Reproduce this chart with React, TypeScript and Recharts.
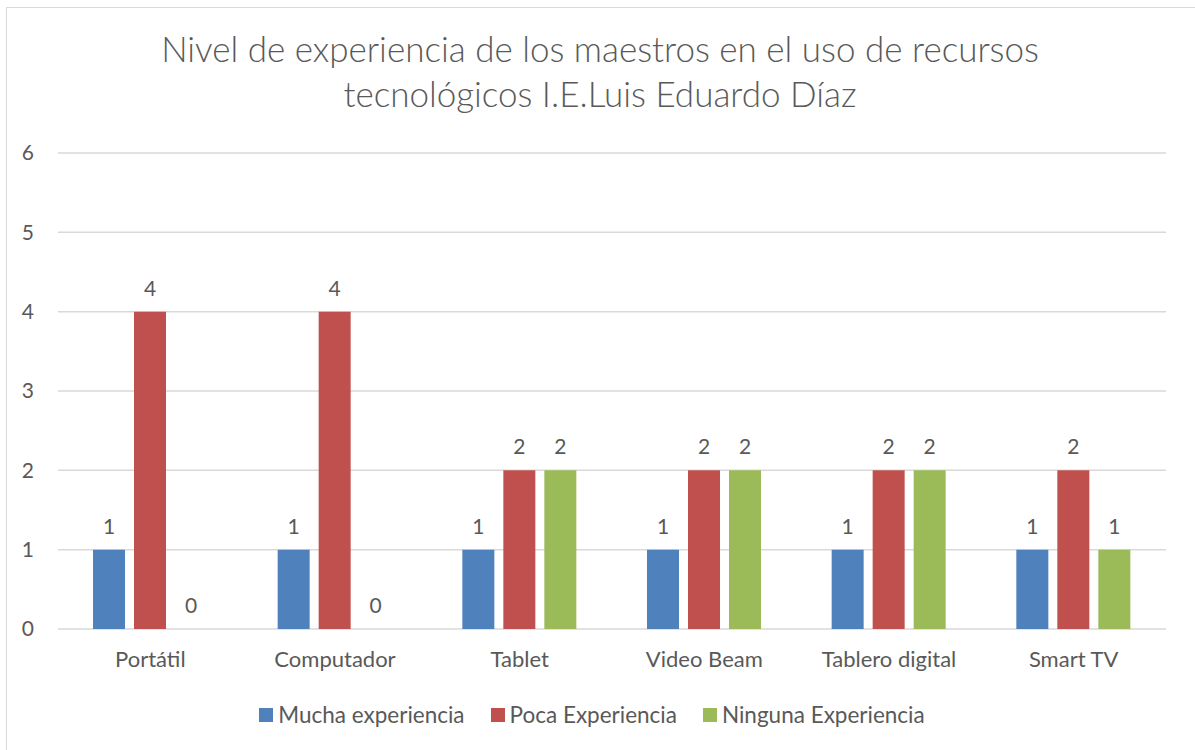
import React from 'react';
import { BarChart, Bar, XAxis, YAxis, CartesianGrid, Legend, LabelList } from 'recharts';

const categories = ['Portátil', 'Computador', 'Tablet', 'Video Beam', 'Tablero digital', 'Smart TV'];
const muchaExperiencia = [1, 1, 1, 1, 1, 1];
const pocaExperiencia = [4, 4, 2, 2, 2, 2];
const ningunaExperiencia = [0, 0, 2, 2, 2, 1];
const yTicks = [0, 1, 2, 3, 4, 5, 6];

const series = [
  { key: 'Mucha experiencia', color: '#4F81BD', values: muchaExperiencia },
  { key: 'Poca Experiencia', color: '#C0504D', values: pocaExperiencia },
  { key: 'Ninguna Experiencia', color: '#9BBB59', values: ningunaExperiencia },
];

const chartData = categories.map((name, i) => {
  const row: Record<string, string | number> = { name };
  series.forEach(s => {
    row[s.key] = s.values[i];
  });
  return row;
});

const FONT = 'Lato, "Open Sans", sans-serif';
const TEXT = '#595959';

const renderLegend = () => (
  <div style={{ display: 'flex', justifyContent: 'center', gap: 26, fontFamily: FONT, fontSize: 22.5, lineHeight: '26px', color: TEXT }}>
    {series.map(s => (
      <div key={s.key} style={{ display: 'flex', alignItems: 'center' }}>
        <span style={{ width: 14, height: 14, background: s.color, marginRight: 5, display: 'inline-block' }} />
        <span>{s.key}</span>
      </div>
    ))}
  </div>
);

export default function App() {
  return (
    <div style={{ position: 'absolute', left: 0, top: 0, width: 1195, height: 750, background: '#fff' }}>
      <div
        style={{
          position: 'absolute',
          left: 6,
          top: 7,
          width: 1195,
          height: 750,
          border: '1.5px solid #d9d9d9',
          boxSizing: 'border-box',
        }}
      />
      <div
        style={{
          position: 'absolute',
          left: 0,
          top: 26,
          width: 1200,
          textAlign: 'center',
          fontFamily: FONT,
          fontWeight: 300,
          fontSize: 35,
          lineHeight: '45px',
          color: TEXT,
        }}
      >
        Nivel de experiencia de los maestros en el uso de recursos
        <br />
        tecnológicos I.E.Luis Eduardo Díaz
      </div>
      <BarChart
        width={1195}
        height={750}
        data={chartData}
        margin={{ top: 153, right: 29, bottom: 65, left: 18 }}
        barSize={32}
        barGap={9}
      >
        <CartesianGrid vertical={false} stroke="#d9d9d9" strokeWidth={1.5} />
        <XAxis
          dataKey="name"
          axisLine={false}
          tickLine={false}
          tickSize={0}
          tickMargin={22}
          tick={{ fill: TEXT, fontSize: 22, fontFamily: FONT }}
          interval={0}
        />
        <YAxis
          width={40}
          domain={[0, 6]}
          ticks={yTicks}
          axisLine={false}
          tickLine={false}
          tickSize={0}
          tickMargin={24}
          tick={{ fill: TEXT, fontSize: 21, fontFamily: FONT }}
        />
        <Legend content={renderLegend} verticalAlign="bottom" wrapperStyle={{ bottom: 22 }} />
        {series.map(s => (
          <Bar key={s.key} dataKey={s.key} fill={s.color} minPointSize={0.01} isAnimationActive={false}>
            <LabelList
              dataKey={s.key}
              position="top"
              offset={16}
              style={{ fill: TEXT, fontSize: 21, fontFamily: FONT }}
            />
          </Bar>
        ))}
      </BarChart>
    </div>
  );
}
